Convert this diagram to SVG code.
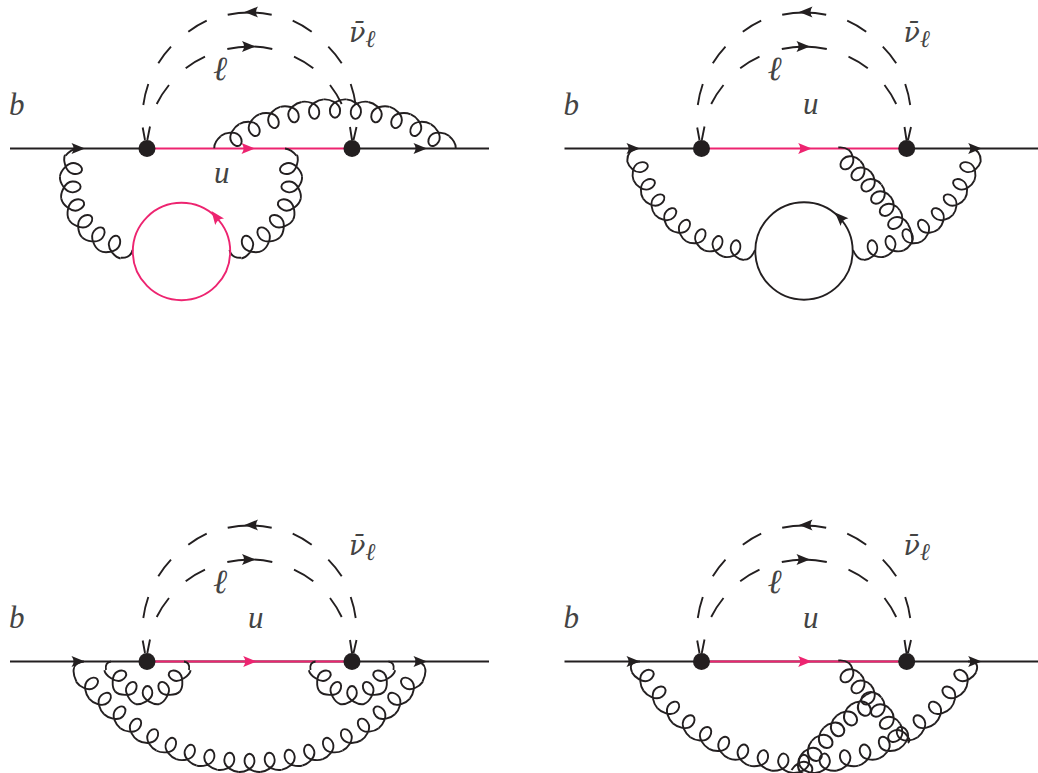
<svg xmlns="http://www.w3.org/2000/svg" width="1038" height="773" viewBox="0 0 1038 773">
<style>
.k{fill:none;stroke:#231f20;stroke-width:1.9}
.r{fill:none;stroke:#ed2470;stroke-width:1.9}
.af{fill:#231f20}
.ar{fill:#ed2470}
.v{fill:#231f20}
text{font-family:"Liberation Serif","DejaVu Serif",serif;font-style:italic;font-size:31px;fill:#444}
.l{font-size:34px}
.n{font-family:"DejaVu Serif","Liberation Serif",serif;font-size:27px}
.sub{font-family:"Liberation Serif","DejaVu Serif",serif;font-size:24px}
</style>
<defs>
<path id="ah" d="M0,0 L-13.5,-5.5 Q-9.5,0 -13.5,5.5 Z"/>
<path id="c" class="k" d="M-11,0 C-6,0.3 5,-3 5.1,-11 C5.2,-15 2.8,-18.3 0,-18.3 C-2.8,-18.3 -5.2,-15 -5.1,-11 C-5,-3 6,0.3 11,0"/>
<path id="cn" class="k" d="M-8,0 C-3,0.3 5.4,-3 5.4,-11 C5.4,-15 2.9,-18 0,-18 C-2.9,-18 -5.4,-15 -5.4,-11 C-5.4,-3 3,0.3 8,0"/>
<path id="cm" class="k" d="M-11.1,0 C-6,0.8 5.4,-4 5.4,-12 C5.4,-16.5 2.9,-20 0,-20 C-2.9,-20 -5.4,-16.5 -5.4,-12 C-5.4,-4 6,0.8 11.1,0"/>
<path id="cc" class="k" d="M-12,0 C-7,1.4 4.8,-4 4.8,-11 C4.8,-15 2.6,-18 0,-18 C-2.6,-18 -4.8,-15 -4.8,-11 C-4.8,-4 7,1.4 12,0"/>
<g id="lep">
<path class="k" d="M145,140 L142.7,127.5 M147.3,140 L150,126.5 M352,140 L350,127 M353.5,140 L356.5,127"/>
<path class="k" d="M143.3,105 A106.5,106.5 0 0 1 148.3,84 M158.3,63.3 A106.5,106.5 0 0 1 171,46.7 M188.3,31.7 A106.5,106.5 0 0 1 206.7,20.7 M227.7,14.8 A106.5,106.5 0 0 1 271.7,14.8 M292.7,20.7 A106.5,106.5 0 0 1 311.7,31.7 M328.3,46.7 A106.5,106.5 0 0 1 341.7,63.3 M350.7,84 A106.5,106.5 0 0 1 355.7,105"/>
<path class="k" d="M156.7,104 A102.5,102.5 0 0 1 169,85 M185.7,68.3 A102.5,102.5 0 0 1 205,56.7 M227.3,49 A102.5,102.5 0 0 1 272.3,49 M294,56.7 A102.5,102.5 0 0 1 313.3,68.3 M330,85 A102.5,102.5 0 0 1 341.7,104"/>
<use href="#ah" class="af" transform="translate(244.5 12) rotate(180)"/>
<use href="#ah" class="af" transform="translate(255.5 46.5)"/>
</g>
</defs>
<g id="connectors">
<g id="panel-a-lines">
<use href="#lep"/>
<path class="k" d="M10,148.5 H147 M352,148.5 H489"/>
<path class="r" d="M147,148.5 H352"/>
<use href="#ah" class="af" transform="translate(85 148.5)"/>
<use href="#ah" class="ar" transform="translate(255 148.5)"/>
<use href="#ah" class="af" transform="translate(427 148.5)"/>
</g>
<g id="gluon-a-left">
<path class="k" d="M78,148.5 C74,149 69,151.5 65.6,155.6 M120.8,257.8 C125,258 131,257 132.5,250"/>
<g transform="translate(137 183)">
<use href="#cm" transform="rotate(103) translate(0 76.5)"/>
<use href="#cm" transform="rotate(86.5) translate(0 76.5)"/>
<use href="#cm" transform="rotate(70) translate(0 76.5)"/>
<use href="#cm" transform="rotate(53.5) translate(0 76.5)"/>
<use href="#cm" transform="rotate(37) translate(0 76.5)"/>
<use href="#cm" transform="rotate(20.5) translate(0 76.5)"/>
</g>
</g>
<g id="gluon-a-right">
<path class="k" d="M285,148.5 C289,149 293,151.5 296.4,155.6 M241.2,257.8 C237,258 231,257 229.5,250"/>
<g transform="translate(225 183)">
<use href="#cm" transform="rotate(-103) translate(0 76.5)"/>
<use href="#cm" transform="rotate(-86.5) translate(0 76.5)"/>
<use href="#cm" transform="rotate(-70) translate(0 76.5)"/>
<use href="#cm" transform="rotate(-53.5) translate(0 76.5)"/>
<use href="#cm" transform="rotate(-37) translate(0 76.5)"/>
<use href="#cm" transform="rotate(-20.5) translate(0 76.5)"/>
</g>
</g>
<g id="gluon-a-top">
<path class="k" d="M214.3,148.3 C214,143 217,139.5 220.7,136.3 M455.7,148.3 C456,143 453,139.5 449.3,136.3"/>
<g transform="translate(335 295)">
<use href="#c" transform="rotate(147.5) translate(0 195.6)"/>
<use href="#c" transform="rotate(154) translate(0 195.6)"/>
<use href="#c" transform="rotate(160.5) translate(0 195.6)"/>
<use href="#c" transform="rotate(167) translate(0 195.6)"/>
<use href="#c" transform="rotate(173.5) translate(0 195.6)"/>
<use href="#c" transform="rotate(180) translate(0 195.6)"/>
<use href="#c" transform="rotate(186.5) translate(0 195.6)"/>
<use href="#c" transform="rotate(193) translate(0 195.6)"/>
<use href="#c" transform="rotate(199.5) translate(0 195.6)"/>
<use href="#c" transform="rotate(206) translate(0 195.6)"/>
<use href="#c" transform="rotate(212.5) translate(0 195.6)"/>
</g>
</g>

<g id="panel-b-lines">
<use href="#lep" transform="translate(554.5 0)"/>
<path class="k" d="M564.5,148.5 H701.5 M906.7,148.5 H1038"/>
<path class="r" d="M701.5,148.5 H906.7"/>
<use href="#ah" class="af" transform="translate(640 148.5)"/>
<use href="#ah" class="ar" transform="translate(811.7 148.5)"/>
<use href="#ah" class="af" transform="translate(981.7 148.5)"/>
</g>
<g id="gluon-b-left">
<path class="k" d="M637,148.5 C631,149 627,154 627.4,161 M743.9,259.6 C748,260 752,257 755,250"/>
<g transform="translate(754.5 129)">
<use href="#c" transform="rotate(71.4) translate(0 131) scale(.93 1)"/>
<use href="#c" transform="rotate(62.5) translate(0 131) scale(.93 1)"/>
<use href="#c" transform="rotate(53.6) translate(0 131) scale(.93 1)"/>
<use href="#c" transform="rotate(44.7) translate(0 131) scale(.93 1)"/>
<use href="#c" transform="rotate(35.8) translate(0 131) scale(.93 1)"/>
<use href="#c" transform="rotate(26.9) translate(0 131) scale(.93 1)"/>
<use href="#c" transform="rotate(18) translate(0 131) scale(.93 1)"/>
<use href="#c" transform="rotate(9.1) translate(0 131) scale(.93 1)"/>
</g>
</g>
<g id="gluon-b-right">
<path class="k" d="M971,148.5 C977,149 981,154 980.6,161 M864.1,259.6 C860,260 856,257 853,250"/>
<g transform="translate(853.5 129)">
<use href="#c" transform="rotate(-71.4) translate(0 131) scale(.93 1)"/>
<use href="#c" transform="rotate(-62.5) translate(0 131) scale(.93 1)"/>
<use href="#c" transform="rotate(-53.6) translate(0 131) scale(.93 1)"/>
<use href="#c" transform="rotate(-44.7) translate(0 131) scale(.93 1)"/>
<use href="#c" transform="rotate(-35.8) translate(0 131) scale(.93 1)"/>
<use href="#c" transform="rotate(-26.9) translate(0 131) scale(.93 1)"/>
<use href="#c" transform="rotate(-18) translate(0 131) scale(.93 1)"/>
<use href="#c" transform="rotate(-9.1) translate(0 131) scale(.93 1)"/>
</g>
</g>
<g id="gluon-b-slant">
<path class="k" d="M838.3,147.5 C843,147 846,148 848.5,149.8 M908,224.3 C911,229 913,238 912,244"/>
<g transform="translate(647 372)">
<use href="#cn" transform="rotate(-136.3) translate(0 300)"/>
<use href="#cn" transform="rotate(-133.2) translate(0 300)"/>
<use href="#cn" transform="rotate(-130.2) translate(0 300)"/>
<use href="#cn" transform="rotate(-127.1) translate(0 300)"/>
<use href="#cn" transform="rotate(-124.1) translate(0 300)"/>
<use href="#cn" transform="rotate(-121) translate(0 300)"/>
</g>
</g>

<g id="panel-c-lines">
<use href="#lep" transform="translate(0 513)"/>
<path class="k" d="M10,661.5 H489"/>
<path class="r" d="M155,661.5 H344"/>
<use href="#ah" class="af" transform="translate(85 661.5)"/>
<use href="#ah" class="ar" transform="translate(256.7 661.5)"/>
<use href="#ah" class="af" transform="translate(427 661.5)"/>
</g>
<g id="gluon-c-big">
<path class="k" d="M84,661.5 C70,662 73,675 76.5,681.7 M415,661.5 C429,662 426,675 422.5,681.7"/>
<g transform="translate(249.5 561)">
<use href="#c" transform="rotate(52.2) translate(0 211) scale(.97 1)"/>
<use href="#c" transform="rotate(46.4) translate(0 211) scale(.97 1)"/>
<use href="#c" transform="rotate(40.6) translate(0 211) scale(.97 1)"/>
<use href="#c" transform="rotate(34.8) translate(0 211) scale(.97 1)"/>
<use href="#c" transform="rotate(29) translate(0 211) scale(.97 1)"/>
<use href="#c" transform="rotate(23.2) translate(0 211) scale(.97 1)"/>
<use href="#c" transform="rotate(17.4) translate(0 211) scale(.97 1)"/>
<use href="#c" transform="rotate(11.6) translate(0 211) scale(.97 1)"/>
<use href="#c" transform="rotate(5.8) translate(0 211) scale(.97 1)"/>
<use href="#c" transform="rotate(0) translate(0 211) scale(.97 1)"/>
<use href="#c" transform="rotate(-5.8) translate(0 211) scale(.97 1)"/>
<use href="#c" transform="rotate(-11.6) translate(0 211) scale(.97 1)"/>
<use href="#c" transform="rotate(-17.4) translate(0 211) scale(.97 1)"/>
<use href="#c" transform="rotate(-23.2) translate(0 211) scale(.97 1)"/>
<use href="#c" transform="rotate(-29) translate(0 211) scale(.97 1)"/>
<use href="#c" transform="rotate(-34.8) translate(0 211) scale(.97 1)"/>
<use href="#c" transform="rotate(-40.6) translate(0 211) scale(.97 1)"/>
<use href="#c" transform="rotate(-46.4) translate(0 211) scale(.97 1)"/>
<use href="#c" transform="rotate(-52.2) translate(0 211) scale(.97 1)"/>
</g>
</g>
<g id="gluon-c-left">
<path class="k" d="M111,661.5 C107,662 105,665 106,670 M184,661.5 C188,662 190,665 189,670"/>
<g transform="translate(147.5 661.7)">
<use href="#cc" transform="rotate(63) translate(0 42.3)"/>
<use href="#cc" transform="rotate(31.5) translate(0 42.3)"/>
<use href="#cc" transform="rotate(0) translate(0 42.3)"/>
<use href="#cc" transform="rotate(-31.5) translate(0 42.3)"/>
<use href="#cc" transform="rotate(-63) translate(0 42.3)"/>
</g>
</g>
<g id="gluon-c-right">
<path class="k" d="M315.5,661.5 C311.5,662 309.5,665 310.5,670 M388.5,661.5 C392.5,662 394.5,665 393.5,670"/>
<g transform="translate(352 661.7)">
<use href="#cc" transform="rotate(63) translate(0 42.3)"/>
<use href="#cc" transform="rotate(31.5) translate(0 42.3)"/>
<use href="#cc" transform="rotate(0) translate(0 42.3)"/>
<use href="#cc" transform="rotate(-31.5) translate(0 42.3)"/>
<use href="#cc" transform="rotate(-63) translate(0 42.3)"/>
</g>
</g>

<g id="panel-d-lines">
<use href="#lep" transform="translate(554.5 513)"/>
<path class="k" d="M564.5,661.5 H1038"/>
<path class="r" d="M709.5,661.5 H898.5"/>
<use href="#ah" class="af" transform="translate(640 661.5)"/>
<use href="#ah" class="ar" transform="translate(811.7 661.5)"/>
<use href="#ah" class="af" transform="translate(981.7 661.5)"/>
</g>
<g id="gluon-d-big">
<path class="k" d="M640,661.5 C632,661 629,665 632,672 M968,661.5 C976,661 979,665 976,672"/>
<g transform="translate(804 576)">
<use href="#c" transform="rotate(57.6) translate(0 197)"/>
<use href="#c" transform="rotate(51.2) translate(0 197)"/>
<use href="#c" transform="rotate(44.8) translate(0 197)"/>
<use href="#c" transform="rotate(38.4) translate(0 197)"/>
<use href="#c" transform="rotate(32) translate(0 197)"/>
<use href="#c" transform="rotate(25.6) translate(0 197)"/>
<use href="#c" transform="rotate(19.2) translate(0 197)"/>
<use href="#c" transform="rotate(12.8) translate(0 197)"/>
<use href="#c" transform="rotate(6.4) translate(0 197)"/>
<use href="#c" transform="rotate(0) translate(0 197)"/>
<use href="#c" transform="rotate(-6.4) translate(0 197)"/>
<use href="#c" transform="rotate(-12.8) translate(0 197)"/>
<use href="#c" transform="rotate(-19.2) translate(0 197)"/>
<use href="#c" transform="rotate(-25.6) translate(0 197)"/>
<use href="#c" transform="rotate(-32) translate(0 197)"/>
<use href="#c" transform="rotate(-38.4) translate(0 197)"/>
<use href="#c" transform="rotate(-44.8) translate(0 197)"/>
<use href="#c" transform="rotate(-51.2) translate(0 197)"/>
<use href="#c" transform="rotate(-57.6) translate(0 197)"/>
</g>
</g>
<g id="gluon-d-slant">
<path class="k" d="M838.3,660.5 C843,660 846,661 848.5,662.8 M908,737.3 C910,739 910,741 908,743"/>
<g transform="translate(647 885)">
<use href="#cn" transform="rotate(-136.3) translate(0 300)"/>
<use href="#cn" transform="rotate(-133.2) translate(0 300)"/>
<use href="#cn" transform="rotate(-130.2) translate(0 300)"/>
<use href="#cn" transform="rotate(-127.1) translate(0 300)"/>
<use href="#cn" transform="rotate(-124.1) translate(0 300)"/>
<use href="#cn" transform="rotate(-121) translate(0 300)"/>
</g>
</g>
<g id="gluon-d-cross">
<path class="k" d="M866,695 L872,692"/>
<g transform="translate(968.7 871.5)">
<use href="#cn" transform="rotate(122.3) translate(0 204) scale(1.11 1)"/>
<use href="#cn" transform="rotate(127.3) translate(0 204) scale(1.11 1)"/>
<use href="#cn" transform="rotate(132.3) translate(0 204) scale(1.11 1)"/>
<use href="#cn" transform="rotate(137.3) translate(0 204) scale(1.11 1)"/>
<use href="#cn" transform="rotate(142.3) translate(0 204) scale(1.11 1)"/>
<use href="#cn" transform="rotate(147.3) translate(0 204) scale(1.11 1)"/>
</g>
</g>
</g>

<g id="loop-a"><circle class="r" cx="181.5" cy="251.5" r="48.7"/><use href="#ah" class="ar" transform="translate(211.5 211) rotate(233)"/></g>
<g id="loop-b"><circle class="k" cx="804" cy="251" r="48.7"/><use href="#ah" class="af" transform="translate(835 212.5) rotate(225)"/></g>

<g id="vertex-a1"><circle class="v" cx="147" cy="148.5" r="8.5"/></g>
<g id="vertex-a2"><circle class="v" cx="352" cy="148.5" r="8.5"/></g>
<g id="vertex-b1"><circle class="v" cx="701.5" cy="148.5" r="8.5"/></g>
<g id="vertex-b2"><circle class="v" cx="906.7" cy="148.5" r="8.5"/></g>
<g id="vertex-c1"><circle class="v" cx="147" cy="661.5" r="8.5"/></g>
<g id="vertex-c2"><circle class="v" cx="352" cy="661.5" r="8.5"/></g>
<g id="vertex-d1"><circle class="v" cx="701.5" cy="661.5" r="8.5"/></g>
<g id="vertex-d2"><circle class="v" cx="906.7" cy="661.5" r="8.5"/></g>

<g id="labels-a"><text x="9" y="114.5">b</text><text class="l" x="213" y="80">ℓ</text><text x="214" y="182.5">u</text><text class="n" x="349" y="41.5">ν̄<tspan class="sub" dy="5">ℓ</tspan></text></g>
<g id="labels-b"><text x="563.5" y="114.5">b</text><text class="l" x="767.5" y="80">ℓ</text><text x="803" y="114">u</text><text class="n" x="903.5" y="41.5">ν̄<tspan class="sub" dy="5">ℓ</tspan></text></g>
<g id="labels-c"><text x="9" y="627.5">b</text><text class="l" x="213" y="593">ℓ</text><text x="248" y="627.5">u</text><text class="n" x="349" y="554.5">ν̄<tspan class="sub" dy="5">ℓ</tspan></text></g>
<g id="labels-d"><text x="563.5" y="627.5">b</text><text class="l" x="767.5" y="593">ℓ</text><text x="803" y="627.5">u</text><text class="n" x="903.5" y="554.5">ν̄<tspan class="sub" dy="5">ℓ</tspan></text></g>
</svg>
